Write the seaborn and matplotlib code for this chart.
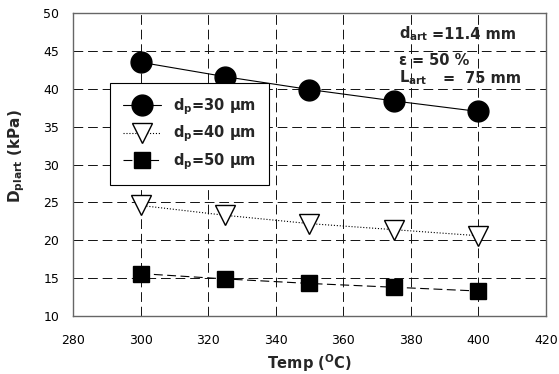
import matplotlib
matplotlib.use("Agg")
import matplotlib.pyplot as plt
import seaborn as sns
import pandas as pd

temps = [300, 325, 350, 375, 400]
dp30 = [43.5, 41.6, 39.9, 38.4, 37.0]
dp40 = [24.6, 23.3, 22.2, 21.4, 20.6]
dp50 = [15.6, 14.9, 14.3, 13.8, 13.3]
labels = [r"d$_\mathregular{p}$=30 μm", r"d$_\mathregular{p}$=40 μm", r"d$_\mathregular{p}$=50 μm"]

sns.set_style("white")
plt.rcParams['font.family'] = ['DejaVu Sans']
plt.rcParams['mathtext.fontset'] = 'custom'
plt.rcParams['mathtext.rm'] = 'DejaVu Sans:bold'
plt.rcParams['mathtext.it'] = 'DejaVu Sans:bold'
plt.rcParams['mathtext.bf'] = 'DejaVu Sans:bold'

fig = plt.figure(figsize=(5.59, 3.74), dpi=100)
ax = fig.add_axes([0.1306, 0.155, 0.8461, 0.8102])

styles = [
    dict(marker='o', mfc='black', ls='-', ms=15),
    dict(marker='v', mfc='white', ls=':', ms=15),
    dict(marker='s', mfc='black', ls=(0, (8, 4)), ms=11.5),
]
for vals, lab, st in zip([dp30, dp40, dp50], labels, styles):
    df = pd.DataFrame({'T': temps, 'D': vals})
    sns.lineplot(data=df, x='T', y='D', ax=ax, color='black', lw=0.8,
                 linestyle=st['ls'], marker=st['marker'], markersize=st['ms'],
                 markerfacecolor=st['mfc'], markeredgecolor='black',
                 markeredgewidth=1.0, label=lab)

ax.set_xlim(280, 420)
ax.set_ylim(10, 50)
ax.set_xticks(range(280, 421, 20))
ax.set_yticks(range(10, 51, 5))
ax.grid(True, color='#111111', ls=(0, (10, 5)), lw=0.7)
ax.set_axisbelow(True)
for s in ax.spines.values():
    s.set_color('#666666')
    s.set_linewidth(1.0)
ax.tick_params(axis='x', direction='in', length=5, labelsize=9, colors='black', width=0.8, pad=13)
ax.tick_params(axis='y', direction='out', length=4, labelsize=9, colors='black', width=0.8, pad=6)
ax.set_xlabel(r"Temp ($\mathregular{^{O}}$C)", fontsize=10.5, fontweight='bold', labelpad=4)
ax.set_ylabel(r"D$_\mathregular{plart}$ (kPa)", fontsize=11, fontweight='bold')
ax.yaxis.set_label_coords(-0.097, 0.528)

leg = ax.legend(loc='upper left', bbox_to_anchor=(0.078, 0.769), borderaxespad=0,
                frameon=True, fancybox=False, framealpha=1,
                edgecolor='black', fontsize=10.5, handlelength=2.6, handletextpad=0.8,
                borderpad=0.9, labelspacing=0.48)
leg.get_frame().set_linewidth(0.8)
for t in leg.get_texts():
    t.set_fontweight('bold')

def px(x):
    return (x - 73) / 473.0

kw = dict(transform=ax.transAxes, fontsize=10.5, fontweight='bold', va='baseline')
ax.text(px(399), 0.915, r"d$_\mathregular{art}$", **kw)
ax.text(px(432), 0.915, "=11.4 mm", **kw)
ax.text(px(398), 0.83, "ε", **kw)
ax.text(px(412), 0.83, "=", **kw)
ax.text(px(429), 0.83, "50 %", **kw)
ax.text(px(399), 0.77, r"L$_\mathregular{art}$", **kw)
ax.text(px(443), 0.77, "=", **kw)
ax.text(px(465), 0.77, "75 mm", **kw)

fig.savefig("out.png", dpi=100)
